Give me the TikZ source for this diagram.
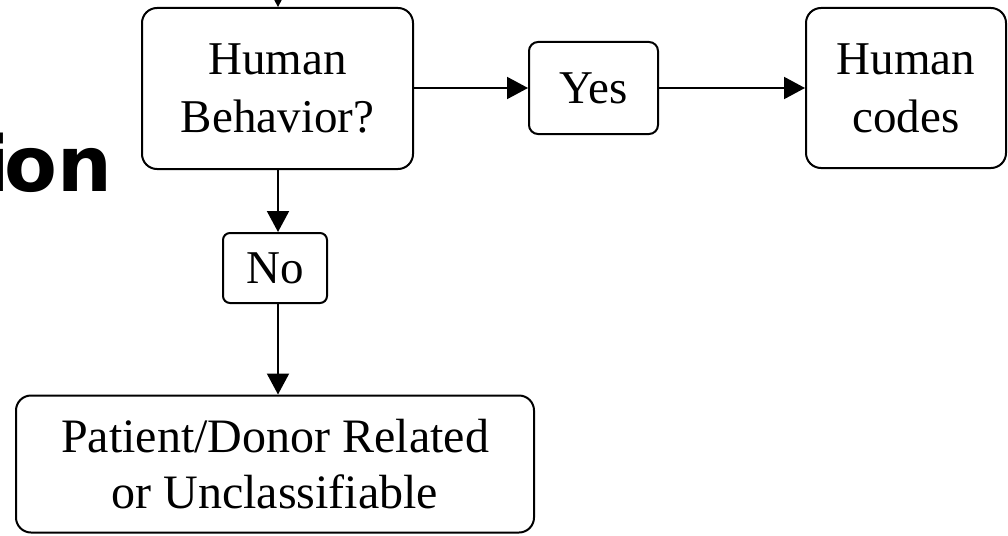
\documentclass[tikz,border=0pt]{standalone}
\usepackage{fontspec}
\setmainfont{Liberation Serif}
\newfontfamily\headfont{DejaVu Sans}
\usetikzlibrary{arrows.meta}
\tikzset{
  flowbox/.style={draw, line width=2pt, rounded corners=15pt, align=center,
    inner sep=0pt, font=\fontsize{47}{58}\selectfont},
  smallbox/.style={flowbox, rounded corners=9pt},
  flowarrow/.style={line width=2pt, -{Triangle[length=21pt,width=22pt]}},
}
\begin{document}
\begin{tikzpicture}[x=1pt,y=-1pt]
\useasboundingbox (0,0) rectangle (1008,535);
\node[anchor=base east, inner sep=0pt, font=\headfont\bfseries\fontsize{77}{77}\selectfont] (title) at (112,191) {i\kern-6pt on};
\node[flowbox, minimum width=271pt, minimum height=161pt] (hb) at (277.5,88.5) {Human\\Behavior?};
\node[smallbox, minimum width=129pt, minimum height=92pt] (yes) at (593.5,88) {Yes};
\node[flowbox, minimum width=200pt, minimum height=160pt] (hc) at (906,88) {Human\\codes};
\node[smallbox, rounded corners=7pt, minimum width=104pt, minimum height=70pt] (no) at (275,268) {No};
\node[flowbox, minimum width=518pt, minimum height=137pt, font=\fontsize{48}{56}\selectfont] (pd) at (275,464) {Patient/Donor Related\\or Unclassifiable};
\coordinate (top) at (278,-40);
\draw[flowarrow] (top) -- (top |- hb.north);
\draw[flowarrow] (hb.east |- yes.west) -- (yes.west);
\draw[flowarrow] (yes.east) -- (hc.west |- yes.east);
\draw[flowarrow] (top |- hb.south) -- (top |- no.north);
\draw[flowarrow] (top |- no.south) -- (top |- pd.north);
\end{tikzpicture}
\end{document}
